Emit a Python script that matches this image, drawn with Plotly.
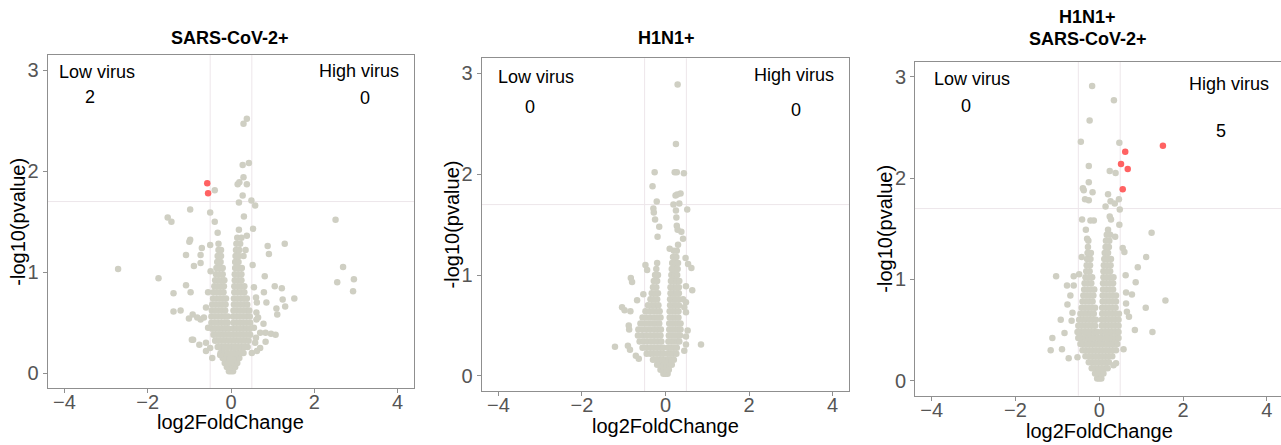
import plotly.graph_objects as go

# ---------------- data ----------------
panel_titles = [["SARS-CoV-2+"], ["H1N1+"], ["H1N1+", "SARS-CoV-2+"]]
low_counts = ["2", "0", "0"]
high_counts = ["0", "0", "5"]
x_ticks = [-4, -2, 0, 2, 4]
y_ticks = [0, 1, 2, 3]
fc_cut = 0.5
p_cut = 1.699

# panel 1 (SARS-CoV-2+)
p1_core = [
    (0.02, [-0.05, 0, 0.05]),
    (0.06, [-0.1, -0.03, 0.03, 0.1]),
    (0.10, [-0.15, -0.07, 0, 0.07, 0.15]),
    (0.15, [-0.2, -0.12, -0.04, 0.04, 0.12, 0.2]),
    (0.20, [-0.25, -0.17, -0.09, 0, 0.09, 0.17, 0.25, 0.3]),
    (0.26, [-0.32, -0.24, -0.16, -0.08, 0, 0.08, 0.16, 0.24, 0.32, 0.4]),
    (0.32, [-0.38, -0.3, -0.22, -0.14, -0.06, 0.02, 0.1, 0.18, 0.26, 0.34, 0.42]),
    (0.38, [-0.42, -0.34, -0.26, -0.18, -0.1, -0.02, 0.06, 0.14, 0.22, 0.3, 0.38, 0.46]),
    (0.44, [-0.45, -0.37, -0.29, -0.21, -0.13, -0.05, 0.05, 0.13, 0.21, 0.29, 0.37, 0.45]),
    (0.50, [-0.47, -0.39, -0.31, -0.23, -0.15, -0.08, 0.06, 0.14, 0.22, 0.3, 0.38, 0.46]),
    (0.56, [-0.47, -0.39, -0.31, -0.23, -0.15, -0.08, 0.05, 0.13, 0.21, 0.29, 0.37, 0.45]),
    (0.62, [-0.46, -0.38, -0.3, -0.22, -0.14, 0.06, 0.14, 0.22, 0.3, 0.38, 0.44]),
    (0.68, [-0.45, -0.37, -0.29, -0.21, -0.13, 0.07, 0.15, 0.23, 0.31, 0.39]),
    (0.74, [-0.43, -0.35, -0.27, -0.19, -0.12, 0.07, 0.15, 0.23, 0.31, 0.38]),
    (0.80, [-0.42, -0.34, -0.26, -0.18, 0.08, 0.16, 0.24, 0.32]),
    (0.86, [-0.4, -0.32, -0.24, -0.17, 0.08, 0.16, 0.24, 0.32]),
    (0.92, [-0.38, -0.3, -0.22, -0.16, 0.09, 0.17, 0.25]),
    (0.98, [-0.36, -0.28, -0.2, 0.09, 0.17, 0.25]),
    (1.04, [-0.35, -0.27, -0.2, 0.1, 0.18, 0.26]),
    (1.10, [-0.33, -0.25, 0.1, 0.18]),
    (1.16, [-0.32, -0.24, 0.11, 0.19, 0.3]),
    (1.22, [-0.3, -0.24, 0.12, 0.2, 0.35]),
    (1.28, [-0.3, 0.13, 0.22]),
    (1.34, [0.15, 0.25]),
]
p1_other = [
    (0.38, 2.52), (0.30, 2.47), (0.28, 2.06), (0.43, 2.08), (0.30, 1.94), (0.38, 1.87),
    (0.16, 1.87), (0.20, 1.89), (-0.39, 1.81), (0.28, 1.76), (0.19, 1.69), (0.49, 1.71),
    (0.58, 1.66), (-0.98, 1.62), (-0.50, 1.59), (-1.52, 1.54), (-1.43, 1.50), (-0.39, 1.50),
    (0.31, 1.55), (2.51, 1.52), (0.53, 1.43), (-0.32, 1.39), (0.19, 1.42), (0.38, 1.36),
    (-0.98, 1.32), (-1.00, 1.30), (-0.50, 1.27), (1.29, 1.28), (0.88, 1.26), (-0.70, 1.24),
    (-1.08, 1.17), (0.91, 1.18), (-0.73, 1.17), (-0.89, 1.06), (0.52, 1.07), (2.69, 1.05),
    (-2.71, 1.03), (-0.73, 1.09), (-0.49, 1.01), (0.81, 0.96), (-1.74, 0.94), (2.95, 0.93),
    (1.05, 0.86), (1.22, 0.84), (2.55, 0.90), (2.93, 0.81), (-1.38, 0.79), (-1.08, 0.87),
    (-0.97, 0.80), (1.52, 0.74), (1.24, 0.73), (0.79, 0.80), (0.85, 0.70), (1.09, 0.64),
    (1.30, 0.66), (-1.38, 0.61), (-1.21, 0.62), (-0.92, 0.58), (-1.01, 0.54), (-0.81, 0.55),
    (-0.73, 0.53), (1.11, 0.58), (0.61, 0.60), (0.61, 0.53), (0.78, 0.49), (0.83, 0.40),
    (0.96, 0.39), (1.07, 0.38), (0.83, 0.31), (-0.91, 0.33), (-0.94, 0.33), (-0.76, 0.28),
    (-0.60, 0.22), (-0.26, 0.18), (0.55, 0.85), (0.60, 0.75), (0.62, 0.70), (0.55, 0.45),
    (0.60, 0.35), (0.70, 0.40), (0.65, 0.55), (0.58, 0.30), (0.70, 0.25), (0.50, 0.20),
    (0.62, 0.22), (-0.55, 0.80), (-0.60, 0.65), (-0.55, 0.45), (-0.60, 0.30), (-0.65, 0.55),
    (-0.50, 0.25), (-0.45, 0.15),
]
p1_sig = [(-0.57, 1.88), (-0.55, 1.78)]

# panel 2 (H1N1+)
p2_core = [
    (0.02, [-0.05, 0, 0.05]),
    (0.06, [-0.12, -0.05, 0.02, 0.08]),
    (0.11, [-0.2, -0.12, -0.05, 0.02, 0.09, 0.15]),
    (0.16, [-0.3, -0.22, -0.14, -0.07, 0, 0.07, 0.14, 0.2]),
    (0.22, [-0.45, -0.36, -0.28, -0.2, -0.12, -0.05, 0.05, 0.12, 0.19, 0.26]),
    (0.28, [-0.55, -0.45, -0.36, -0.28, -0.2, -0.12, -0.05, 0.06, 0.13, 0.2, 0.27]),
    (0.34, [-0.62, -0.52, -0.43, -0.34, -0.26, -0.18, -0.1, 0.07, 0.14, 0.21, 0.28, 0.33]),
    (0.40, [-0.66, -0.56, -0.46, -0.37, -0.28, -0.2, -0.12, 0.08, 0.15, 0.22, 0.29, 0.35]),
    (0.46, [-0.65, -0.55, -0.45, -0.36, -0.27, -0.19, -0.11, 0.09, 0.16, 0.23, 0.3, 0.36]),
    (0.52, [-0.6, -0.5, -0.4, -0.31, -0.23, -0.15, 0.09, 0.16, 0.23, 0.3, 0.36]),
    (0.58, [-0.55, -0.45, -0.36, -0.27, -0.19, -0.12, 0.1, 0.17, 0.24, 0.31]),
    (0.64, [-0.48, -0.38, -0.3, -0.22, -0.14, 0.1, 0.17, 0.24, 0.31]),
    (0.70, [-0.42, -0.33, -0.25, -0.17, 0.11, 0.18, 0.25, 0.32]),
    (0.76, [-0.36, -0.28, -0.2, 0.11, 0.18, 0.25, 0.32]),
    (0.82, [-0.33, -0.25, -0.18, 0.12, 0.19, 0.26, 0.32]),
    (0.88, [-0.3, -0.22, 0.12, 0.19, 0.26, 0.32]),
    (0.94, [-0.28, -0.2, 0.13, 0.2, 0.27, 0.33]),
    (1.00, [-0.25, -0.18, 0.14, 0.21, 0.28]),
    (1.06, [-0.22, 0.15, 0.22, 0.29]),
    (1.12, [-0.2, 0.16, 0.23, 0.3]),
    (1.18, [0.18, 0.26]),
    (1.24, [0.2, 0.27]),
]
p2_other = [
    (0.29, 2.89), (0.25, 2.30), (-0.26, 2.02), (0.22, 2.02), (0.27, 2.02), (0.44, 2.01),
    (-0.31, 1.88), (-0.21, 1.73), (0.28, 1.80), (0.36, 1.81), (0.24, 1.79), (0.19, 1.70),
    (0.33, 1.71), (0.52, 1.65), (-0.29, 1.66), (-0.28, 1.62), (0.25, 1.64), (-0.25, 1.55),
    (0.26, 1.57), (0.27, 1.49), (-0.15, 1.48), (-0.19, 1.38), (0.38, 1.43), (0.42, 1.36),
    (0.29, 1.45), (0.10, 1.26), (0.30, 1.30), (0.48, 1.17), (0.54, 1.11), (0.62, 1.07),
    (-0.48, 1.10), (-0.44, 1.05), (-0.83, 0.97), (-0.80, 0.93), (0.49, 0.89), (0.64, 0.85),
    (-1.04, 0.68), (-0.98, 0.65), (-0.68, 0.75), (-0.53, 0.81), (-0.84, 0.64), (0.49, 0.73),
    (0.49, 0.63), (0.45, 0.68), (-0.87, 0.46), (-0.88, 0.50), (-1.21, 0.29), (-0.90, 0.30),
    (-0.85, 0.26), (-0.71, 0.20), (-0.64, 0.17), (0.53, 0.45), (0.49, 0.39), (0.85, 0.31),
    (0.45, 0.25), (0.49, 0.31), (0.42, 0.76),
]
p2_sig = []

# panel 3 (H1N1+ SARS-CoV-2+)
p3_core = [
    (0.02, [-0.05, 0, 0.05]),
    (0.07, [-0.1, -0.03, 0.04, 0.1]),
    (0.12, [-0.18, -0.1, -0.02, 0.06, 0.14, 0.2]),
    (0.18, [-0.25, -0.17, -0.09, -0.01, 0.07, 0.15, 0.23]),
    (0.24, [-0.33, -0.25, -0.17, -0.09, -0.01, 0.07, 0.15, 0.23, 0.31]),
    (0.30, [-0.4, -0.32, -0.24, -0.16, -0.08, 0, 0.08, 0.16, 0.24, 0.32, 0.4]),
    (0.36, [-0.45, -0.37, -0.29, -0.21, -0.13, -0.05, 0.03, 0.11, 0.19, 0.27, 0.35, 0.43]),
    (0.42, [-0.5, -0.42, -0.34, -0.26, -0.18, -0.1, -0.02, 0.06, 0.14, 0.22, 0.3, 0.38, 0.46]),
    (0.48, [-0.52, -0.44, -0.36, -0.28, -0.2, -0.12, -0.04, 0.06, 0.14, 0.22, 0.3, 0.38, 0.46]),
    (0.54, [-0.5, -0.42, -0.34, -0.26, -0.18, -0.1, 0.06, 0.14, 0.22, 0.3, 0.38, 0.46]),
    (0.60, [-0.48, -0.4, -0.32, -0.24, -0.16, -0.08, 0.06, 0.14, 0.22, 0.3, 0.38, 0.46]),
    (0.66, [-0.45, -0.37, -0.29, -0.21, -0.13, 0.07, 0.15, 0.23, 0.31, 0.39, 0.47]),
    (0.72, [-0.42, -0.34, -0.26, -0.18, -0.1, 0.07, 0.15, 0.23, 0.31, 0.39]),
    (0.78, [-0.4, -0.32, -0.24, -0.16, 0.08, 0.16, 0.24, 0.32, 0.4]),
    (0.84, [-0.38, -0.3, -0.22, -0.14, 0.08, 0.16, 0.24, 0.32, 0.4]),
    (0.90, [-0.36, -0.28, -0.2, -0.12, 0.09, 0.17, 0.25, 0.33]),
    (0.96, [-0.35, -0.27, -0.19, 0.09, 0.17, 0.25, 0.33]),
    (1.02, [-0.33, -0.25, -0.17, 0.1, 0.18, 0.26, 0.34]),
    (1.08, [-0.31, -0.23, 0.1, 0.18, 0.26]),
    (1.14, [-0.3, -0.22, 0.11, 0.19, 0.27]),
    (1.20, [-0.29, -0.21, 0.12, 0.2, 0.28]),
    (1.26, [-0.28, -0.2, 0.13, 0.21]),
    (1.32, [-0.27, 0.15, 0.23]),
    (1.38, [-0.26, 0.16, 0.24]),
    (1.44, [0.18, 0.26]),
]
p3_other = [
    (-0.17, 2.91), (0.35, 2.77), (-0.23, 2.57), (-0.44, 2.36), (0.48, 2.35), (-0.25, 2.12),
    (0.25, 2.07), (0.39, 2.05), (-0.25, 1.96), (-0.39, 1.90), (-0.37, 1.88), (-0.16, 1.86),
    (0.21, 1.84), (0.47, 1.79), (-0.34, 1.79), (-0.25, 1.78), (0.27, 1.77), (0.37, 1.75),
    (0.15, 1.72), (0.49, 1.69), (-0.41, 1.59), (-0.21, 1.58), (-0.13, 1.58), (0.25, 1.62),
    (0.28, 1.59), (0.48, 1.54), (1.25, 1.46), (-0.32, 1.49), (-0.29, 1.40), (0.21, 1.49),
    (0.38, 1.42), (0.56, 1.31), (0.60, 1.27), (1.12, 1.22), (-0.42, 1.22), (0.92, 1.12),
    (-1.03, 1.03), (0.63, 1.04), (0.87, 0.97), (-0.48, 1.05), (-0.61, 1.03), (-0.77, 0.94),
    (-0.61, 0.94), (-0.69, 0.84), (0.64, 0.87), (0.78, 0.85), (1.58, 0.79), (-0.76, 0.75),
    (-0.64, 0.67), (1.11, 0.72), (0.64, 0.76), (0.66, 0.68), (0.71, 0.63), (-0.92, 0.60),
    (-0.66, 0.59), (-0.83, 0.47), (0.85, 0.50), (1.27, 0.48), (-1.12, 0.42), (-1.16, 0.30),
    (-0.89, 0.31), (-0.73, 0.22), (-0.52, 0.23), (0.58, 0.31), (0.40, 0.17), (0.34, 0.15),
]
p3_sig = [(1.52, 2.32), (0.62, 2.26), (0.52, 2.14), (0.68, 2.09), (0.56, 1.89)]

# ------------- layout constants -------------
W, H = 1281, 445
FONT = "Liberation Sans, Arial, Helvetica, sans-serif"
GREY_PT = "#cfcfc3"
RED_PT = "#ff6262"
REF_LINE = "#ede6ea"
FRAME = "#8f8f8f"

def px(x):
    return x / W

def py(y):
    return 1 - y / H

# panel pixel boxes (left, right, top, bottom)
boxes = [(47.7, 414.3, 55.0, 388.3), (481.7, 849.3, 58.3, 391.0), (915.0, 1281.0, 61.7, 395.7)]
x_ranges = [[-4.4, 4.4], [-4.4, 4.4], [-4.4, 4.34]]
y_range = [-0.15, 3.15]

# label positions in data coordinates
low_lbl = [(-3.22, 2.98), (-3.10, 2.96), (-3.05, 2.98)]
low_num = [(-3.38, 2.73), (-3.24, 2.67), (-3.19, 2.71)]
high_lbl = [(3.07, 2.99), (3.07, 2.98), (3.10, 2.93)]
high_num = [(3.22, 2.72), (3.13, 2.64), (2.90, 2.47)]
title_pos = [[(230.3, 38.0)], [(666.7, 38.3)], [(1087.7, 17.3), (1087.7, 39.0)]]
ytitle_pos = [(18.0, 221.7), (451.7, 224.7), (885.0, 228.7)]
xtitle_pos = [(230.7, 422.0), (665.7, 426.0), (1099.0, 431.0)]

cores = [p1_core, p2_core, p3_core]
others = [p1_other, p2_other, p3_other]
sigs = [p1_sig, p2_sig, p3_sig]

fig = go.Figure()
annotations = []
shapes = []

for i in range(3):
    xa = "x" if i == 0 else f"x{i+1}"
    ya = "y" if i == 0 else f"y{i+1}"
    xs, ys = [], []
    for yv, row in cores[i]:
        for xv in row:
            xs.append(xv)
            ys.append(yv)
    for xv, yv in others[i]:
        xs.append(xv)
        ys.append(yv)
    fig.add_trace(go.Scatter(x=xs, y=ys, mode="markers", xaxis=xa, yaxis=ya,
                             marker=dict(size=6.5, color=GREY_PT, line=dict(width=0)),
                             hoverinfo="skip", showlegend=False))
    if sigs[i]:
        fig.add_trace(go.Scatter(x=[p[0] for p in sigs[i]], y=[p[1] for p in sigs[i]],
                                 mode="markers", xaxis=xa, yaxis=ya,
                                 marker=dict(size=6.5, color=RED_PT, line=dict(width=0)),
                                 hoverinfo="skip", showlegend=False))
    l, r, t, b = boxes[i]
    ax_common = dict(showgrid=False, zeroline=False, showline=True, mirror=True,
                     linecolor=FRAME, linewidth=1, ticks="outside", ticklen=4,
                     tickcolor=FRAME, tickwidth=1,
                     tickfont=dict(family=FONT, size=20, color="#555555"))
    fig.update_layout(**{
        ("xaxis" if i == 0 else f"xaxis{i+1}"): dict(
            domain=[px(l), min(px(r), 1.0)], range=x_ranges[i], tickvals=x_ticks,
            ticklabelstandoff=-8, anchor=ya, **ax_common),
        ("yaxis" if i == 0 else f"yaxis{i+1}"): dict(
            domain=[py(b), py(t)], range=y_range, tickvals=y_ticks,
            anchor=xa, **ax_common),
    })
    # reference lines
    for xv in (-fc_cut, fc_cut):
        shapes.append(dict(type="line", xref=xa, yref=f"{ya} domain", x0=xv, x1=xv, y0=0, y1=1,
                           line=dict(color=REF_LINE, width=1), layer="below"))
    shapes.append(dict(type="line", xref=f"{xa} domain", yref=ya, x0=0, x1=1, y0=p_cut, y1=p_cut,
                       line=dict(color=REF_LINE, width=1), layer="below"))
    # corner labels
    for (xv, yv), txt in [(low_lbl[i], "Low virus"), (low_num[i], low_counts[i]),
                          (high_lbl[i], "High virus"), (high_num[i], high_counts[i])]:
        annotations.append(dict(x=xv, y=yv, xref=xa, yref=ya, text=txt, showarrow=False,
                                xanchor="center", yanchor="middle",
                                font=dict(family=FONT, size=18, color="black")))
    # titles
    for (tx, ty), txt in zip(title_pos[i], panel_titles[i]):
        annotations.append(dict(x=px(tx), y=py(ty), xref="paper", yref="paper",
                                text=f"<b>{txt}</b>", showarrow=False,
                                xanchor="center", yanchor="middle",
                                font=dict(family=FONT, size=18, color="black")))
    tx, ty = ytitle_pos[i]
    annotations.append(dict(x=px(tx), y=py(ty), xref="paper", yref="paper",
                            text="-log10(pvalue)", textangle=-90, showarrow=False,
                            xanchor="center", yanchor="middle",
                            font=dict(family=FONT, size=20, color="black")))
    tx, ty = xtitle_pos[i]
    annotations.append(dict(x=px(tx), y=py(ty), xref="paper", yref="paper",
                            text="log2FoldChange", showarrow=False,
                            xanchor="center", yanchor="middle",
                            font=dict(family=FONT, size=20, color="black")))

fig.update_layout(width=W, height=H, margin=dict(l=0, r=0, t=0, b=0),
                  paper_bgcolor="white", plot_bgcolor="white",
                  annotations=annotations, shapes=shapes, showlegend=False)

fig.write_html("out.html", config={"displayModeBar": False},
               post_script="document.body.style.margin='0';document.body.style.overflow='hidden';")
